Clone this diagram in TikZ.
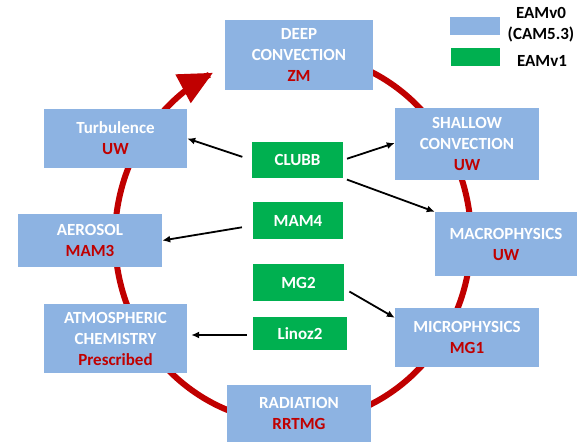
\documentclass[tikz,border=0pt]{standalone}
\usepackage{fontspec}
\setmainfont{Carlito}
\usetikzlibrary{arrows.meta}
\definecolor{eamblue}{HTML}{8DB3E2}
\definecolor{eamgreen}{HTML}{00B050}
\definecolor{eamred}{HTML}{C00000}
\begin{document}
\begin{tikzpicture}[x=1pt,y=-1pt,
  txt/.style={font=\bfseries\fontsize{17}{21}\selectfont, align=center, inner sep=0pt},
  bluebox/.style={txt, fill=eamblue, text=white},
  greenbox/.style={txt, fill=eamgreen, text=white},
  conn/.style={-{Latex[length=8pt,width=7pt]}, line width=1.8pt, black},
  cycle/.style={line width=6pt, eamred, -{Triangle[length=34pt,width=31pt]}}
]
\useasboundingbox (0,0) rectangle (588,442);
% red cycle (behind boxes)
\draw[cycle] plot[domain=75:-243.3, samples=200, smooth] ({293+178*cos(\x)},{238-185*sin(\x)});
% blue boxes
\node[bluebox, minimum width=148pt, minimum height=70pt] (deep) at (299,55) {DEEP\\CONVECTION\\\textcolor{eamred}{ZM}};
\node[bluebox, minimum width=143pt, minimum height=59pt] (turb) at (115.5,138.5) {Turbulence\\\textcolor{eamred}{UW}};
\node[bluebox, minimum width=144pt, minimum height=72pt] (shallow) at (467,144) {SHALLOW\\CONVECTION\\\textcolor{eamred}{UW}};
\node[bluebox, minimum width=144pt, minimum height=53pt] (aerosol) at (90,240.5) {AEROSOL\\\textcolor{eamred}{MAM3}};
\node[bluebox, minimum width=142pt, minimum height=64pt] (macro) at (506,244) {MACROPHYSICS\\\textcolor{eamred}{UW}};
\node[bluebox, minimum width=143pt, minimum height=69pt] (atm) at (115.5,338.5) {ATMOSPHERIC\\CHEMISTRY\\\textcolor{eamred}{Prescribed}};
\node[bluebox, minimum width=144pt, minimum height=59pt] (micro) at (467,337.5) {MICROPHYSICS\\\textcolor{eamred}{MG1}};
\node[bluebox, minimum width=144pt, minimum height=57pt] (rad) at (299,413.5) {RADIATION\\\textcolor{eamred}{RRTMG}};
% green boxes
\node[greenbox, minimum width=91pt, minimum height=36pt] (clubb) at (297.5,160) {CLUBB};
\node[greenbox, minimum width=90pt, minimum height=37pt] (mam4) at (298,220.5) {MAM4};
\node[greenbox, minimum width=91pt, minimum height=37pt] (mg2) at (298.5,282.5) {MG2};
\node[greenbox, minimum width=94pt, minimum height=33pt] (linoz) at (300,333.5) {Linoz2};
% connectors
\draw[conn, shorten <=10pt] (clubb.west) -- (turb.east);
\draw[conn, shorten <=4pt] (clubb.east) -- ([yshift=1pt]shallow.west);
\draw[conn, shorten <=4pt] (clubb.south east) -- (macro.north west);
\draw[conn, shorten <=11pt] ([yshift=-5pt]mam4.west) -- (aerosol.east);
\draw[conn, shorten <=6pt] ([yshift=-6pt]mg2.east) -- ([yshift=-10pt]micro.north west);
\draw[conn, shorten <=6pt, shorten >=4pt] ([yshift=-1.5pt]linoz.west) -- ([yshift=-1.5pt]linoz.west -| atm.east);
% legend
\node[fill=eamblue, minimum width=50pt, minimum height=18pt, inner sep=0pt] (legblue) at (475,26) {};
\node[fill=eamgreen, minimum width=49pt, minimum height=18pt, inner sep=0pt] (leggreen) at (475.5,57) {};
\node[txt, text=black] (legbluetxt) at (541,25) {EAMv0\\(CAM5.3)};
\node[txt, text=black] (leggreentxt) at (542,61) {EAMv1};
\end{tikzpicture}
\end{document}
